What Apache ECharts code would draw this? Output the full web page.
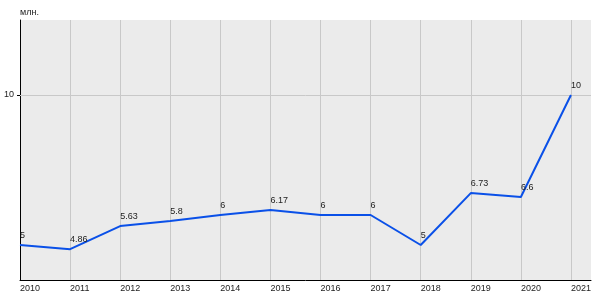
<!DOCTYPE html>
<html><head><meta charset="utf-8">
<script src="https://cdn.jsdelivr.net/npm/echarts@6/dist/echarts.min.js"></script>
<style>html,body{margin:0;padding:0;background:#fff}#c{width:600px;height:300px}</style>
</head><body><div id="c"></div>
<script>
const years = [2010, 2011, 2012, 2013, 2014, 2015, 2016, 2017, 2018, 2019, 2020, 2021];
const values = [5, 4.86, 5.63, 5.8, 6, 6.17, 6, 6, 5, 6.73, 6.6, 10];
const yTicks = [10];
const unitLabel = 'млн.';

const font = 'Liberation Sans, Arial, sans-serif';
const chart = echarts.init(document.getElementById('c'), null, {renderer: 'canvas'});
const gridColors = years.map(() => '#c8c8c8').concat(['rgba(0,0,0,0)']);
chart.setOption({
  animation: false,
  grid: {left: 20, top: 20, right: 9, bottom: 20, show: true, backgroundColor: '#ebebeb', borderWidth: 0},
  xAxis: {
    type: 'value', min: 2010, max: 2021.4, interval: 1,
    axisLine: {show: true, lineStyle: {color: '#000', width: 1}},
    axisTick: {show: false},
    splitLine: {show: true, lineStyle: {color: gridColors, width: 1}},
    axisLabel: {
      align: 'left', margin: 4, fontSize: 9, color: '#222', fontFamily: font,
      showMaxLabel: false,
      formatter: v => (Number.isInteger(v) ? String(v) : '')
    }
  },
  yAxis: {
    type: 'value', min: 10 - 185 / 30, max: 12.5,
    name: unitLabel, nameLocation: 'end', nameGap: 7,
    nameTextStyle: {align: 'left', verticalAlign: 'middle', fontSize: 9, color: '#222', fontFamily: font},
    axisLine: {show: true, onZero: false, lineStyle: {color: '#000', width: 1}},
    axisTick: {show: true, length: 3, customValues: yTicks, lineStyle: {color: '#000'}},
    axisLabel: {customValues: yTicks, margin: 6, fontSize: 9, color: '#222', fontFamily: font},
    splitLine: {show: false}
  },
  series: [{
    type: 'line',
    data: years.map((y, i) => [y, values[i]]),
    symbol: 'circle', symbolSize: 2, showSymbol: true,
    itemStyle: {color: 'rgba(0,0,0,0)'},
    lineStyle: {color: '#0a50e8', width: 2},
    label: {
      show: true, position: 'top', distance: 4, align: 'left',
      fontSize: 9, color: '#222', fontFamily: font,
      formatter: p => String(p.value[1])
    },
    markLine: {
      silent: true, symbol: 'none', z: 1,
      label: {show: false},
      lineStyle: {color: '#c8c8c8', width: 1, type: 'solid'},
      data: yTicks.map(v => ({yAxis: v}))
    },
    z: 3
  }]
});
</script></body></html>
